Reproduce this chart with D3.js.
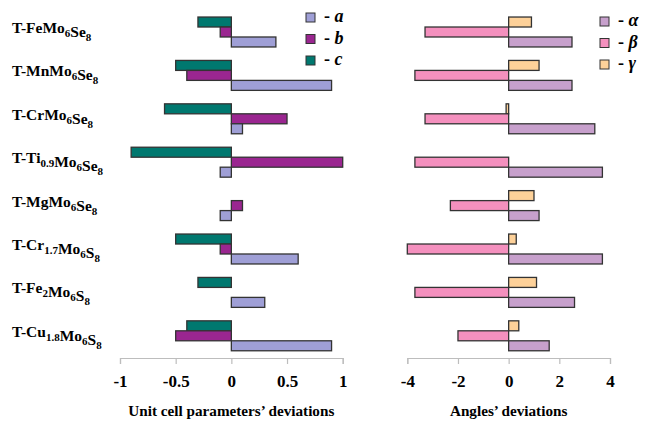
<!DOCTYPE html>
<html>
<head>
<meta charset="utf-8">
<script src="https://cdn.jsdelivr.net/npm/d3@7"></script>
<style>
  html, body { margin: 0; padding: 0; background: #fff; }
  svg { display: block; }
  svg text { font-family: "Liberation Serif", "DejaVu Serif", "Times New Roman", serif; font-weight: bold; }
</style>
</head>
<body>
<svg id="chart" width="650" height="422"></svg>
<script>
// Compounds, top to bottom (digits are drawn as subscripts)
const compounds = ["T-FeMo6Se8", "T-MnMo6Se8", "T-CrMo6Se8", "T-Ti0.9Mo6Se8",
                   "T-MgMo6Se8", "T-Cr1.7Mo6S8", "T-Fe2Mo6S8", "T-Cu1.8Mo6S8"];

// Unit cell parameter deviations
const devA = [0.4, 0.9, 0.1, -0.1, -0.1, 0.6, 0.3, 0.9];
const devB = [-0.1, -0.4, 0.5, 1.0, 0.1, -0.1, 0.0, -0.5];
const devC = [-0.3, -0.5, -0.6, -0.9, 0.0, -0.5, -0.3, -0.4];

// Angle deviations
const devAlpha = [2.5, 2.5, 3.4, 3.7, 1.2, 3.7, 2.6, 1.6];
const devBeta  = [-3.3, -3.7, -3.3, -3.7, -2.3, -4.0, -3.7, -2.0];
const devGamma = [0.9, 1.2, -0.1, 0.0, 1.0, 0.3, 1.1, 0.4];

const cellTicks = [-1, -0.5, 0, 0.5, 1];
const angleTicks = [-4, -2, 0, 2, 4];

const cellSeries = [
  { key: "c", values: devC, color: "#00786f" },
  { key: "b", values: devB, color: "#9a2690" },
  { key: "a", values: devA, color: "#9f9fd6" }
];
const angleSeries = [
  { key: "γ", values: devGamma, color: "#fdd199" },
  { key: "β", values: devBeta,  color: "#f490be" },
  { key: "α", values: devAlpha, color: "#c7a0cc" }
];

const svg = d3.select("#chart");

const y = d3.scaleBand()
  .domain(compounds)
  .range([10.3, 357.5])
  .paddingInner(0.31)
  .paddingOuter(0.155);

const ySub = d3.scaleBand().domain([0, 1, 2]).range([0, y.bandwidth()]);

// Category labels with subscripted numbers
const labels = svg.append("g");
compounds.forEach(name => {
  const t = labels.append("text")
    .attr("x", 12)
    .attr("y", y(name) + y.bandwidth() / 2 + 1)
    .style("font-size", "15.5px");
  name.split(/(\d+(?:\.\d+)?)/).filter(s => s.length).forEach(part => {
    if (/^\d/.test(part)) {
      t.append("tspan").style("font-size", "11px").attr("dy", 4).text(part);
      t.append("tspan").attr("dy", -4).text("");
    } else {
      t.append("tspan").text(part);
    }
  });
});

function panel(series, domain, range, ticks, title) {
  const x = d3.scaleLinear().domain(domain).range(range);
  const g = svg.append("g");

  series.forEach((s, i) => {
    g.append("g").selectAll("rect")
      .data(s.values.map((v, j) => ({ v, name: compounds[j] })))
      .join("rect")
      .attr("x", d => Math.min(x(0), x(d.v)))
      .attr("y", d => y(d.name) + ySub(i))
      .attr("width", d => Math.abs(x(d.v) - x(0)))
      .attr("height", ySub.bandwidth())
      .attr("fill", s.color)
      .attr("stroke", "#333")
      .attr("stroke-width", 1.3);
  });

  const axis = g.append("g")
    .attr("transform", "translate(0,358)")
    .call(d3.axisBottom(x).tickValues(ticks).tickSize(6).tickPadding(11)
      .tickFormat(d => String(d)));
  axis.select(".domain").attr("stroke", "#bdbdbd").attr("stroke-width", 1.2);
  axis.selectAll(".tick line").attr("stroke", "#bdbdbd").attr("stroke-width", 1.2);
  axis.selectAll(".tick text")
    .attr("fill", "#000")
    .style("font-size", "17px");

  g.append("text")
    .attr("x", x(0))
    .attr("y", 416)
    .attr("text-anchor", "middle")
    .style("font-size", "15.2px")
    .text(title);
  return x;
}

panel(cellSeries, [-1, 1], [120, 342.7], cellTicks, "Unit cell parameters\u2019 deviations");
panel(angleSeries, [-4, 4], [407.3, 610], angleTicks, "Angles\u2019 deviations");

// Legends
function legend(items, x0, y0) {
  const lg = svg.append("g");
  items.forEach((s, i) => {
    const row = lg.append("g").attr("transform", `translate(${x0},${y0 + i * 21.5})`);
    row.append("rect")
      .attr("x", 0).attr("y", -9).attr("width", 9).attr("height", 9)
      .attr("fill", s.color).attr("stroke", "#333").attr("stroke-width", 1);
    const t = row.append("text").attr("x", 18).attr("y", 0).style("font-size", "18px");
    t.append("tspan").text("- ");
    t.append("tspan").style("font-style", "italic").text(s.key);
  });
}
legend(cellSeries.slice().reverse(), 306, 22);
legend(angleSeries.slice().reverse(), 600, 26);
</script>
</body>
</html>
